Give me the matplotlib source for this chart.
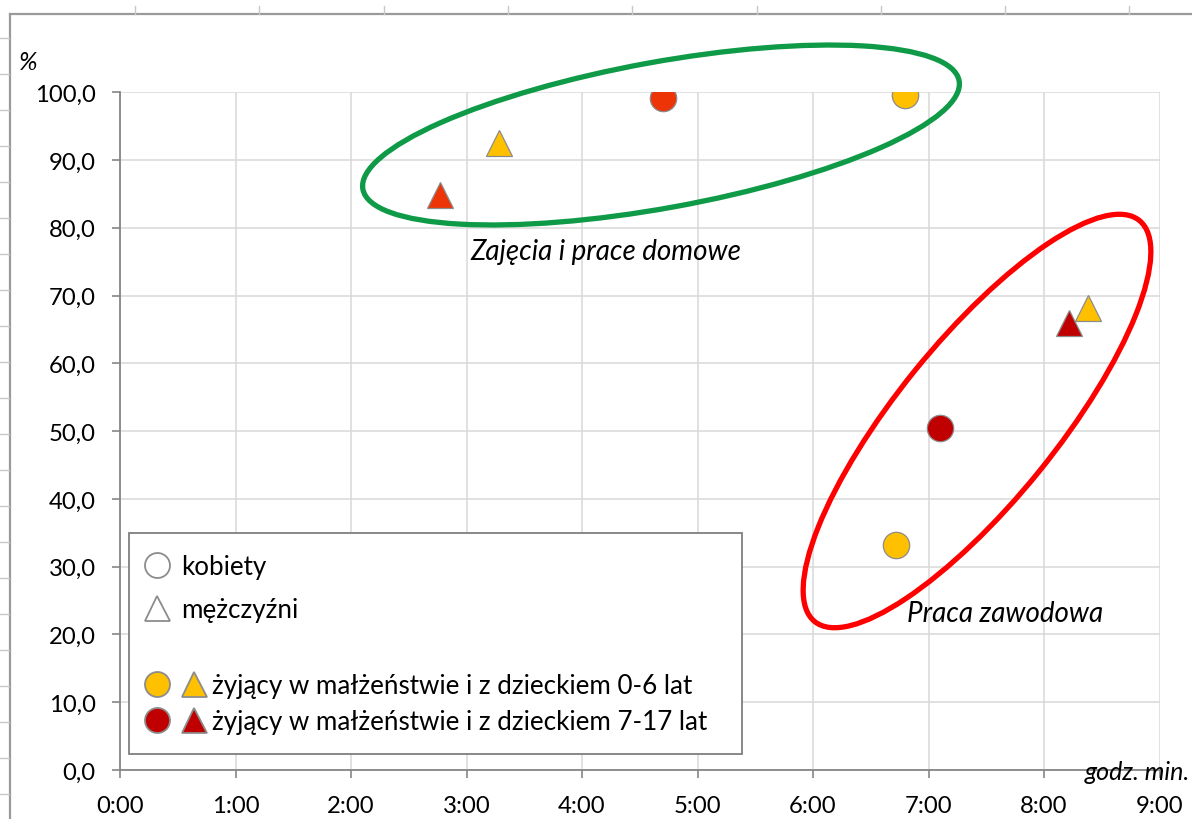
import matplotlib
matplotlib.use("Agg")
import matplotlib.pyplot as plt
from matplotlib.lines import Line2D
from matplotlib.patches import Ellipse, Rectangle
from matplotlib.legend_handler import HandlerTuple

plt.rcParams['font.family'] = ['Lato', 'DejaVu Sans']

# ---------------- data ----------------
activities = ['Zajęcia i prace domowe', 'Praca zawodowa']
# time (h:mm) and % of people performing the activity, per group
women_0_6_time = ['6:48', '6:43']
women_0_6_pct = [99.6, 33.2]
women_7_17_time = ['4:42', '7:06']
women_7_17_pct = [99.1, 50.5]
men_0_6_time = ['3:17', '8:23']
men_0_6_pct = [92.5, 68.1]
men_7_17_time = ['2:46', '8:13']
men_7_17_pct = [84.8, 66.0]

x_ticks_hours = list(range(0, 10))
y_ticks = list(range(0, 101, 10))
legend_labels_sex = ['kobiety', 'mężczyźni']
legend_labels_group = ['żyjący w małżeństwie i z dzieckiem 0-6 lat',
                       'żyjący w małżeństwie i z dzieckiem 7-17 lat']
x_unit_label = 'godz. min.'
y_unit_label = '%'

YELLOW = '#FFC000'
DARKRED = '#C00000'
ORANGERED = '#EC3407'
EDGE = '#8C8C8C'


def to_hours(t):
    h, m = t.split(':')
    return int(h) + int(m) / 60.0


W, H = 1192, 820
fig = plt.figure(figsize=(W / 100, H / 100), dpi=100)
fig.patch.set_facecolor('white')
ax = fig.add_axes([120 / W, (H - 771) / H, (1159.5 - 120) / W, (771 - 93.3) / H])


def pin(x, y):
    """pixel (top-left origin) -> inches (for dpi_scale_trans)"""
    return x / 100.0, (H - y) / 100.0


# ---- scatter points ----
series = [
    (women_0_6_time, women_0_6_pct, 'o', [YELLOW, YELLOW]),
    (women_7_17_time, women_7_17_pct, 'o', [ORANGERED, DARKRED]),
    (men_0_6_time, men_0_6_pct, '^', [YELLOW, YELLOW]),
    (men_7_17_time, men_7_17_pct, '^', [ORANGERED, DARKRED]),
]
for times, pcts, mk, cols in series:
    for t, p, c in zip(times, pcts, cols):
        ax.plot([to_hours(t)], [p], linestyle='none', marker=mk, markersize=19,
                markerfacecolor=c, markeredgecolor=EDGE, markeredgewidth=0.9,
                zorder=6)

ax.set_xlim(0, 9)
ax.set_ylim(0, 100)
ax.set_xticks(x_ticks_hours)
ax.set_xticklabels([f'{h}:00' for h in x_ticks_hours])
ax.set_yticks(y_ticks)
ax.set_yticklabels([f'{v:.1f}'.replace('.', ',') for v in y_ticks])
ax.grid(True, color='#D9D9D9', linewidth=1.1)
ax.set_axisbelow(True)
for s in ['top', 'right']:
    ax.spines[s].set_visible(False)
for s in ['left', 'bottom']:
    ax.spines[s].set_color('#868686')
    ax.spines[s].set_linewidth(1.3)
ax.tick_params(axis='both', direction='out', length=6, width=1.2,
               color='#868686', labelsize=17.2, labelcolor='black')
ax.tick_params(axis='y', pad=11.5)
ax.tick_params(axis='x', pad=12)

# ---- annotation texts ----
ax.text(4.21, 76.6, activities[0], style='italic', fontsize=20,
        ha='center', va='center', zorder=7)
ax.text(7.66, 23.2, activities[1], style='italic', fontsize=20,
        ha='center', va='center', zorder=7)

# ---- hand-drawn ellipses (pixel geometry) ----
e1 = Ellipse(pin(661, 136), 2 * 303 / 100, 2 * 73 / 100, angle=10.3,
             transform=fig.dpi_scale_trans, fill=False, edgecolor='#0F9A48',
             linewidth=3.8, clip_on=False, zorder=5)
e2 = Ellipse(pin(977, 422), 2 * 258 / 100, 2 * 80 / 100, angle=51,
             transform=fig.dpi_scale_trans, fill=False, edgecolor='#FF0000',
             linewidth=3.8, clip_on=False, zorder=5)
ax.add_patch(e1)
ax.add_patch(e2)

# ---- legend box ----
x0, y0 = pin(129, 755)
box = Rectangle((x0, y0), (742 - 129) / 100, (755 - 534) / 100,
                transform=fig.dpi_scale_trans, facecolor='white',
                edgecolor='#7F7F7F', linewidth=1.3, clip_on=False, zorder=8)
ax.add_patch(box)

LFS = 18.7
open_c = Line2D([], [], linestyle='none', marker='o', markersize=18,
                markerfacecolor='white', markeredgecolor='#8C8C8C', markeredgewidth=1.3)
open_t = Line2D([], [], linestyle='none', marker='^', markersize=18,
                markerfacecolor='white', markeredgecolor='#8C8C8C', markeredgewidth=1.3)
leg1 = ax.legend([open_c, open_t], legend_labels_sex, loc='upper left',
                 bbox_to_anchor=(144 / W, 1 - 555 / H), bbox_transform=fig.transFigure,
                 frameon=False, fontsize=LFS, handlelength=1.0, handletextpad=0.42,
                 borderpad=0, borderaxespad=0, labelspacing=0.7)
leg1.set_zorder(9)
ax.add_artist(leg1)

pairs = []
for col in [YELLOW, DARKRED]:
    c = Line2D([], [], linestyle='none', marker='o', markersize=18,
               markerfacecolor=col, markeredgecolor=EDGE, markeredgewidth=1.3)
    t = Line2D([], [], linestyle='none', marker='^', markersize=18,
               markerfacecolor=col, markeredgecolor=EDGE, markeredgewidth=1.3)
    pairs.append((c, t))
leg2 = ax.legend(pairs, legend_labels_group, loc='upper left',
                 bbox_to_anchor=(145 / W, 1 - 674 / H), bbox_transform=fig.transFigure,
                 frameon=False, fontsize=LFS, handlelength=2.37, handletextpad=0.22,
                 borderpad=0, borderaxespad=0, labelspacing=0.42,
                 handler_map={tuple: HandlerTuple(ndivide=None, pad=0.45)})
leg2.set_zorder(9)

# ---- unit labels ----
fig.text(28 / W, 1 - 62 / H, y_unit_label, style='italic', fontsize=18,
         ha='center', va='center')
fig.text(1190 / W, 1 - 773 / H, x_unit_label, style='italic', fontsize=18,
         ha='right', va='center')

# ---- spreadsheet frame around the chart ----
frame_col = '#9A9A9A'
fig.add_artist(Line2D([10 / W, 10 / W], [0, 1 - 15 / H], color=frame_col,
                      linewidth=1.6, transform=fig.transFigure))
fig.add_artist(Line2D([10 / W, 1], [1 - 15 / H, 1 - 15 / H], color=frame_col,
                      linewidth=1.6, transform=fig.transFigure))
yy = 39.3
while yy < H:
    fig.add_artist(Line2D([0, 9 / W], [1 - yy / H, 1 - yy / H], color='#C8C8C8',
                          linewidth=1.0, transform=fig.transFigure))
    yy += 36.0
xx = 135.0
while xx < W:
    fig.add_artist(Line2D([xx / W, xx / W], [1 - 7 / H, 1 - 15 / H], color='#C8C8C8',
                          linewidth=1.0, transform=fig.transFigure))
    xx += 124.3

fig.savefig('out.png', dpi=100, facecolor='white')
